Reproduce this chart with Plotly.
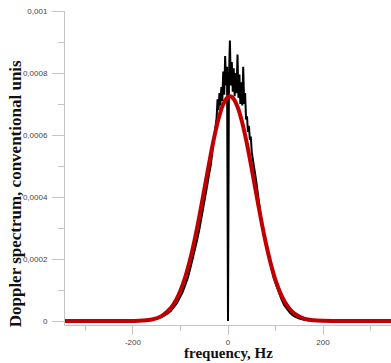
import plotly.graph_objects as go

# ---- data ----
freq_meas = [-350, -200, -170, -160, -150, -144, -138, -132, -126, -120, -114, -108, -102, -96,
             -90, -84, -78, -72, -66, -60, -54, -48, -44, -40, -36, -33, -30, -27, -24, -22,
             -20, -18, -16, -14, -12, -10, -8, -6, -4, -2, 0, 2, 4, 6, 8, 10, 12, 14, 16, 18,
             20, 22, 24, 26, 28, 30, 32, 34, 36, 38, 40, 42, 44, 46, 48, 50, 53, 56, 59, 62,
             65, 68, 72, 76, 80, 84, 88, 92, 96, 100, 106, 112, 118, 124, 130, 136, 142, 150,
             160, 175, 200, 345]
spec_meas = [0, 0, 0.000002, 0.000004, 0.000007, 0.000010, 0.000014, 0.000019, 0.000025,
             0.000033, 0.000044, 0.000057, 0.000074, 0.000092, 0.000116, 0.000142, 0.000178,
             0.000212, 0.000255, 0.000298, 0.000345, 0.000398, 0.000435, 0.000472, 0.000505,
             0.000545, 0.000580, 0.000620, 0.000655, 0.000715, 0.000680, 0.000735, 0.000695,
             0.000755, 0.000710, 0.000805, 0.000730, 0.000855, 0.000760, 0.000820, 0.0,
             0.000780, 0.000905, 0.000760, 0.000835, 0.000740, 0.000815, 0.000725, 0.000800,
             0.000735, 0.000860, 0.000720, 0.000795, 0.000700, 0.000770, 0.000695, 0.000820,
             0.000700, 0.000735, 0.000650, 0.000660, 0.000610, 0.000630, 0.000585, 0.000595,
             0.000545, 0.000520, 0.000485, 0.000455, 0.000420, 0.000380, 0.000345, 0.000305,
             0.000270, 0.000245, 0.000212, 0.000185, 0.000162, 0.000140, 0.000122, 0.000095,
             0.000072, 0.000052, 0.000038, 0.000027, 0.000019, 0.000013, 0.000008, 0.000004,
             0.0000015, 0, 0]

freq_fit = [-350, -200, -180, -160, -140, -120, -110, -100, -90, -80, -70, -60, -50, -40,
            -30, -20, -10, 0, 4, 10, 20, 30, 40, 50, 60, 70, 80, 90, 100, 110, 120, 130,
            140, 160, 180, 200, 345]
spec_fit = [0, 0.0000003, 0.0000014, 0.0000050, 0.0000157, 0.0000422, 0.0000655, 0.0000981,
            0.0001415, 0.0001966, 0.0002634, 0.0003400, 0.0004228, 0.0005068, 0.0005854,
            0.0006518, 0.0006992, 0.0007229, 0.0007250, 0.0007202, 0.0006915, 0.0006398,
            0.0005706, 0.0004902, 0.0004060, 0.0003240, 0.0002492, 0.0001847, 0.0001319,
            0.0000908, 0.0000602, 0.0000385, 0.0000237, 0.0000080, 0.0000024, 0.0000006, 0]

y_tickvals = [0, 0.0002, 0.0004, 0.0006, 0.0008, 0.001]
y_ticktext = ["0", "0,0002", "0,0004", "0,0006", "0,0008", "0,001"]
x_tickvals = [-200, 0, 200]
x_ticktext = ["-200", "0", "200"]

fig = go.Figure()
fig.add_trace(go.Scatter(x=freq_meas, y=spec_meas, mode="lines",
                         line=dict(color="#000000", width=2), showlegend=False))
fig.add_trace(go.Scatter(x=freq_fit, y=spec_fit, mode="lines", line_shape="spline",
                         line=dict(color="#c00000", width=4), showlegend=False))

axis_col = "#c4c4c4"
fig.update_layout(
    width=391, height=363,
    margin=dict(l=65, r=0, t=11, b=38),
    paper_bgcolor="white", plot_bgcolor="white",
    font=dict(family="Liberation Sans, Arial, sans-serif", size=8, color="#444"),
    xaxis=dict(range=[-343, 343], showgrid=False, zeroline=False,
               showline=True, linecolor=axis_col, linewidth=1,
               tickmode="array", tickvals=x_tickvals, ticktext=x_ticktext,
               ticks="outside", ticklen=9, tickcolor=axis_col, tickwidth=1,
               minor=dict(tickmode="array", tickvals=[-300, -100, 100, 300],
                          ticks="outside", ticklen=5, tickcolor=axis_col),
               tickfont=dict(size=8, color="#444")),
    yaxis=dict(range=[-0.0000129, 0.001], showgrid=False, zeroline=False,
               showline=True, linecolor=axis_col, linewidth=1,
               tickmode="array", tickvals=y_tickvals, ticktext=y_ticktext,
               ticks="outside", ticklen=12, tickcolor=axis_col, tickwidth=1,
               ticklabelstandoff=3,
               minor=dict(tickmode="array",
                          tickvals=[0.0001, 0.0003, 0.0005, 0.0007, 0.0009],
                          ticks="outside", ticklen=6, tickcolor=axis_col),
               tickfont=dict(size=8, color="#444")),
    annotations=[
        dict(text="<b>frequency, Hz</b>", xref="paper", yref="paper",
             x=0.5, y=-0.09, xanchor="center", yanchor="middle", showarrow=False,
             font=dict(family="Liberation Serif, Times New Roman, serif", size=15, color="#111")),
        dict(text="<b>Doppler spectrum, conventional unis</b>", xref="paper", yref="paper",
             x=-0.153, y=0.4166, xanchor="center", yanchor="middle", textangle=-90,
             showarrow=False,
             font=dict(family="Liberation Serif, Times New Roman, serif", size=17, color="#111")),
    ],
)

fig.write_html("out.html", config={"displayModeBar": False},
               post_script="document.body.style.margin='0';document.body.style.overflow='hidden';")
